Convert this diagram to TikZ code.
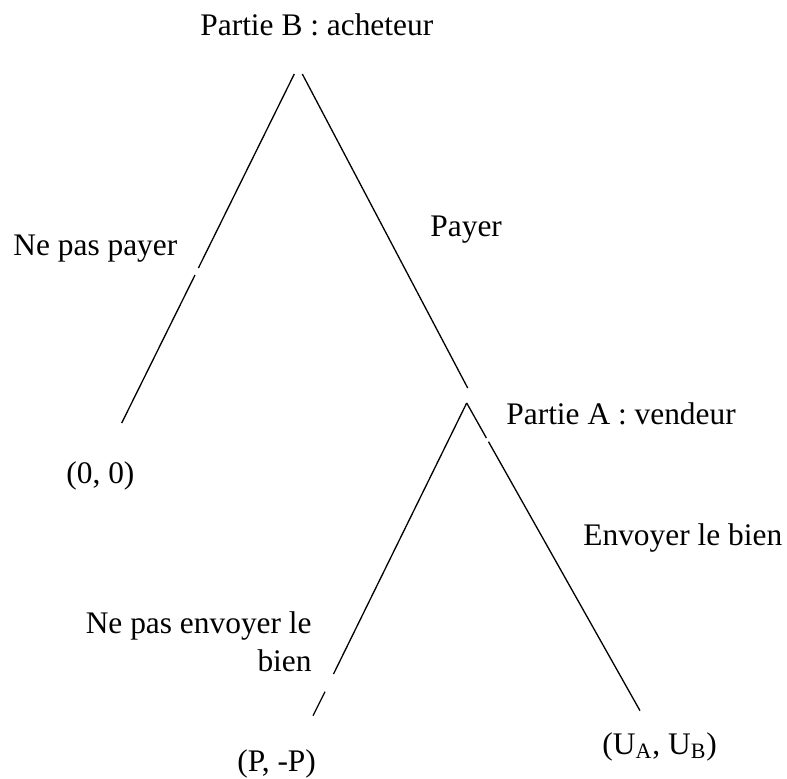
\documentclass[tikz,border=0pt]{standalone}
\usepackage{fontspec}
\setmainfont{Liberation Serif}
\usepackage{tikz}
\usetikzlibrary{positioning}

\begin{document}
\begin{tikzpicture}[
		x=0.5pt, y=-0.5pt,
		txt/.style={
			inner sep=0pt,
			font=\fontsize{15.7}{19}\selectfont
		},
		branch/.style={line width=0.65pt}
		]
		\useasboundingbox (0,0) rectangle (787,778);
		% decision points and ends of the branches
		\coordinate (topL) at (294.3,74);
		\coordinate (topR) at (302.3,74);
		\coordinate (cutNa) at (198.4,268);
		\coordinate (cutNb) at (195,275);
		\coordinate (endN) at (121.7,423);
		\coordinate (endP) at (467.7,388);
		\coordinate (apexA) at (466.7,403);
		\coordinate (cutEa) at (486.4,438);
		\coordinate (cutEb) at (488.5,441.7);
		\coordinate (endE) at (640,710.7);
		\coordinate (cutSa) at (333.5,674);
		\coordinate (cutSb) at (325,691.7);
		\coordinate (endS) at (313,715.7);

		\node[txt, anchor=base west] (partB) at (200,35) {Partie B : acheteur};
		\node[txt, anchor=base west] (nopay) at (13,255) {Ne pas payer};
		\node[txt, anchor=base west] (pay) at (430,236.7) {Payer};
		\node[txt, anchor=base west] (partA) at (506,424) {Partie A : vendeur};
		\node[txt, anchor=base west] (send) at (583,545) {Envoyer le bien};
		\node[txt, anchor=base east, align=right] (nosend) at (312,671) {Ne pas envoyer le\\bien};
		\node[txt, anchor=base west] (out1) at (66,483) {(0, 0)};
		\node[txt, anchor=base west] (out2) at (237,771) {(P, -P)};
		\node[txt, anchor=base west] (out3) at (602,754) {(U\textsubscript{A}, U\textsubscript{B})};

		\draw[branch] (topL) -- (cutNa);
		\draw[branch] (cutNb) -- (endN);
		\draw[branch] (topR) -- (endP);
		\draw[branch] (apexA) -- (cutSa);
		\draw[branch] (cutSb) -- (endS);
		\draw[branch] (apexA) -- (cutEa);
		\draw[branch] (cutEb) -- (endE);
	\end{tikzpicture}
\end{document}
